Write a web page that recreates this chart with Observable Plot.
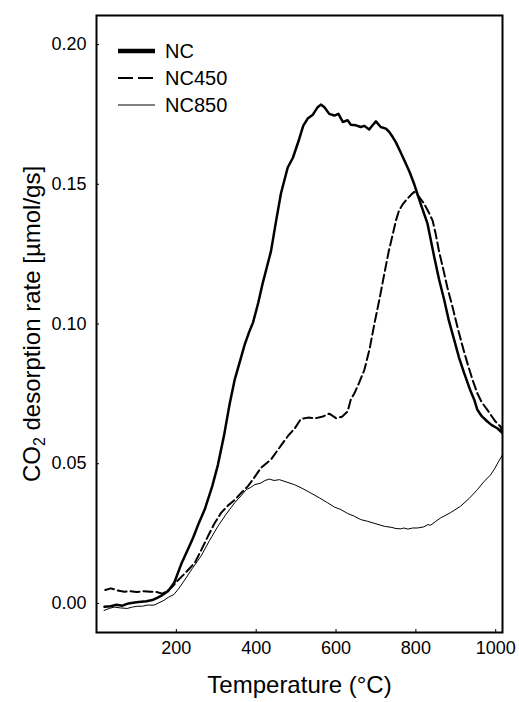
<!DOCTYPE html>
<html>
<head>
<meta charset="utf-8">
<script src="https://cdn.jsdelivr.net/npm/d3@7"></script>
<script src="https://cdn.jsdelivr.net/npm/@observablehq/plot@0.6"></script>
<style>
  html, body { margin: 0; padding: 0; background: #fff; }
  #wrap { position: relative; width: 519px; height: 702px; font-family: "Liberation Sans", Arial, sans-serif; }
  #legend { position: absolute; left: 0; top: 0; pointer-events: none; }
</style>
</head>
<body>
<div id="wrap"></div>
<script>
// ---- data (temperature °C, CO2 desorption rate µmol/gs) ----
const seriesNames = ["NC", "NC450", "NC850"];
const xTicks = [200, 400, 600, 800, 1000];
const yTicks = [0.00, 0.05, 0.10, 0.15, 0.20];

const NC = [[20,-0.0012],[35,-0.0010],[50,-0.0005],[65,-0.0008],[80,0.0000],[100,0.0004],[125,0.0008],[140,0.0012],[152,0.0020],[165,0.0030],[180,0.0045],[195,0.0075],[212,0.0140],[228,0.0190],[242,0.0235],[257,0.0290],[271,0.0336],[290,0.0420],[304,0.0495],[320,0.0605],[333,0.0710],[346,0.0800],[360,0.0870],[371,0.0925],[382,0.0970],[392,0.1005],[405,0.1075],[417,0.1150],[427,0.1205],[437,0.1260],[450,0.1370],[462,0.1467],[479,0.1560],[492,0.1595],[508,0.1663],[518,0.1710],[529,0.1735],[542,0.1749],[554,0.1776],[562,0.1785],[571,0.1776],[583,0.1752],[596,0.1746],[606,0.1752],[617,0.1723],[629,0.1729],[637,0.1713],[650,0.1711],[662,0.1705],[671,0.1709],[683,0.1696],[692,0.1712],[700,0.1725],[712,0.1705],[725,0.1699],[733,0.1688],[742,0.1669],[750,0.1650],[760,0.1620],[771,0.1586],[784,0.1545],[796,0.1500],[812,0.1430],[829,0.1360],[846,0.1240],[858,0.1160],[871,0.1086],[883,0.1010],[896,0.0943],[908,0.0880],[921,0.0824],[937,0.0760],[946,0.0730],[954,0.0693],[965,0.0670],[979,0.0651],[990,0.0638],[1004,0.0627],[1017,0.0610]];

const NC450 = [[22,0.0048],[36,0.0054],[52,0.0047],[70,0.0042],[86,0.0044],[100,0.0041],[119,0.0044],[135,0.0042],[148,0.0042],[165,0.0035],[177,0.0044],[190,0.0060],[202,0.0080],[219,0.0104],[233,0.0125],[246,0.0145],[262,0.0190],[279,0.0240],[295,0.0285],[312,0.0324],[329,0.0350],[346,0.0370],[362,0.0395],[379,0.0419],[395,0.0450],[412,0.0485],[437,0.0515],[462,0.0565],[480,0.0600],[496,0.0625],[512,0.0660],[530,0.0665],[550,0.0663],[567,0.0669],[583,0.0679],[600,0.0663],[615,0.0668],[629,0.0687],[637,0.0730],[646,0.0752],[658,0.0790],[671,0.0836],[684,0.0910],[696,0.1000],[709,0.1090],[721,0.1180],[732,0.1260],[742,0.1320],[750,0.1370],[758,0.1407],[768,0.1430],[779,0.1449],[790,0.1465],[796,0.1473],[808,0.1455],[821,0.1430],[832,0.1400],[842,0.1370],[850,0.1320],[858,0.1260],[868,0.1200],[879,0.1130],[892,0.1060],[904,0.0990],[917,0.0920],[929,0.0860],[942,0.0800],[954,0.0752],[965,0.0720],[979,0.0693],[990,0.0670],[1000,0.0650],[1012,0.0633],[1017,0.0612]];

const NC850 = [[19,-0.0025],[32,-0.0018],[44,-0.0013],[60,-0.0016],[77,-0.0018],[90,-0.0013],[102,-0.0010],[115,-0.0010],[127,-0.0006],[144,-0.0006],[156,0.0002],[169,0.0011],[180,0.0022],[194,0.0032],[207,0.0055],[219,0.0080],[240,0.0125],[262,0.0170],[283,0.0225],[304,0.0276],[325,0.0320],[346,0.0360],[362,0.0385],[375,0.0407],[386,0.0415],[396,0.0425],[412,0.0431],[422,0.0440],[433,0.0445],[445,0.0440],[458,0.0443],[475,0.0435],[496,0.0425],[515,0.0412],[537,0.0395],[558,0.0378],[579,0.0360],[596,0.0345],[612,0.0336],[629,0.0322],[646,0.0312],[662,0.0300],[679,0.0294],[700,0.0285],[721,0.0276],[740,0.0272],[750,0.0268],[762,0.0267],[770,0.0270],[780,0.0266],[792,0.0270],[804,0.0270],[820,0.0274],[830,0.0282],[837,0.0280],[850,0.0294],[862,0.0306],[887,0.0325],[912,0.0348],[933,0.0375],[954,0.0407],[970,0.0435],[987,0.0460],[996,0.0479],[1008,0.0510],[1017,0.0532]];

const styles = {
  NC:    {strokeWidth: 2.5, dash: null},
  NC450: {strokeWidth: 2, dash: "9,4"},
  NC850: {strokeWidth: 1, dash: null}
};
const seriesData = {NC, NC450, NC850};

const rows = seriesNames.flatMap(name => seriesData[name].map(([t, v]) => ({name, t, v})));

const font = '"Liberation Sans", Arial, sans-serif';

const plot = Plot.plot({
  width: 519,
  height: 702,
  marginLeft: 96,
  marginRight: 17,
  marginTop: 15,
  marginBottom: 70,
  style: {fontFamily: font, fontSize: "18px", color: "#000", background: "#fff", overflow: "visible"},
  x: {domain: [0, 1017]},
  y: {domain: [-0.0104, 0.2104]},
  marks: [
    ...seriesNames.map(name => Plot.line(rows.filter(d => d.name === name), {
      x: "t", y: "v", stroke: "#000",
      strokeWidth: styles[name].strokeWidth,
      strokeDasharray: styles[name].dash,
      strokeLinejoin: "round",
      clip: true
    })),
    Plot.axisX({ticks: xTicks, tickSize: -3, tickPadding: 12, tickFormat: d3.format("d"),
      label: "Temperature (°C)", labelAnchor: "center", labelArrow: "none", labelOffset: 60, fontSize: 18}),
    Plot.axisY({ticks: yTicks, tickSize: -3, tickPadding: 13, tickFormat: d3.format(".2f"),
      label: "CO2 desorption rate [µmol/gs]", labelAnchor: "center", labelArrow: "none", labelOffset: 74, fontSize: 18}),
    Plot.frame({stroke: "#000", strokeWidth: 2})
  ]
});

document.getElementById("wrap").appendChild(plot);

// axis titles: larger font, subscript for CO2
plot.querySelectorAll('g[aria-label="x-axis label"] text, g[aria-label="y-axis label"] text').forEach(t => {
  t.setAttribute("font-size", "24px");
  t.style.fontSize = "24px";
});
const yl = plot.querySelector('g[aria-label="y-axis label"] text');
if (yl) {
  const ns = "http://www.w3.org/2000/svg";
  while (yl.firstChild) yl.removeChild(yl.firstChild);
  const a = document.createElementNS(ns, "tspan"); a.textContent = "CO";
  const b = document.createElementNS(ns, "tspan"); b.textContent = "2";
  b.setAttribute("font-size", "16px"); b.setAttribute("dy", "5");
  const c = document.createElementNS(ns, "tspan"); c.textContent = " desorption rate [µmol/gs]";
  c.setAttribute("dy", "-5");
  yl.append(a, b, c);
}

// legend overlay (top-left inside the frame)
const ns = "http://www.w3.org/2000/svg";
const lg = document.createElementNS(ns, "svg");
lg.setAttribute("id", "legend");
lg.setAttribute("width", "260");
lg.setAttribute("height", "130");
const legendWidths = {NC: 4.5, NC450: 2, NC850: 1};
const legendDash = {NC: null, NC450: "15,5", NC850: null};
seriesNames.forEach((name, i) => {
  const y = 51 + i * 27;
  const l = document.createElementNS(ns, "line");
  l.setAttribute("x1", 118); l.setAttribute("x2", 155);
  l.setAttribute("y1", y); l.setAttribute("y2", y);
  l.setAttribute("stroke", "#000");
  l.setAttribute("stroke-width", legendWidths[name]);
  if (legendDash[name]) l.setAttribute("stroke-dasharray", legendDash[name]);
  lg.appendChild(l);
  const t = document.createElementNS(ns, "text");
  t.setAttribute("x", 165); t.setAttribute("y", y + 7);
  t.setAttribute("font-family", font);
  t.setAttribute("font-size", "20px");
  t.textContent = name;
  lg.appendChild(t);
});
document.getElementById("wrap").appendChild(lg);
</script>
</body>
</html>
